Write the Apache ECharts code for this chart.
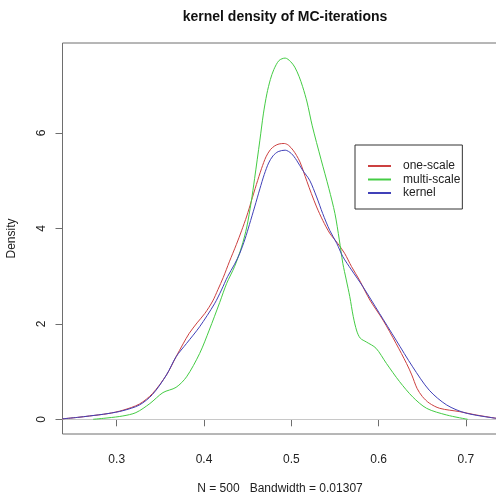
<!DOCTYPE html>
<html>
<head>
<meta charset="utf-8">
<title>kernel density of MC-iterations</title>
<script src="https://cdn.jsdelivr.net/npm/echarts@6.0.0/dist/echarts.min.js"></script>
<style>
  html, body { margin: 0; padding: 0; background: #fff; }
  #main { width: 496px; height: 496px; }
</style>
</head>
<body>
<div id="main"></div>
<script>
// 刻度
var xTicks = [0.3, 0.4, 0.5, 0.6, 0.7];
var yTicks = [0, 2, 4, 6];
var seriesNames = ['one-scale', 'multi-scale', 'kernel'];

// one-scale (red)
var oneX = [0.238,0.255,0.269,0.290,0.307,0.326,0.341,0.357,0.368,0.376,0.383,0.392,0.401,0.410,0.416,0.422,0.429,0.437,0.443,0.449,0.454,0.460,0.466,0.471,0.476,0.481,0.486,0.492,0.497,0.502,0.506,0.510,0.514,0.518,0.523,0.529,0.536,0.544,0.553,0.561,0.569,0.578,0.590,0.605,0.620,0.632,0.638,0.644,0.650,0.658,0.670,0.693,0.712,0.735];
var oneY = [0.01,0.04,0.07,0.12,0.19,0.32,0.54,0.93,1.31,1.58,1.80,2.02,2.22,2.48,2.72,2.97,3.30,3.66,3.95,4.26,4.56,4.92,5.26,5.50,5.65,5.73,5.77,5.78,5.74,5.64,5.53,5.39,5.19,4.98,4.73,4.45,4.17,3.90,3.69,3.48,3.20,2.92,2.50,2.08,1.59,1.17,0.93,0.65,0.48,0.34,0.23,0.16,0.09,0.02];

// multi-scale (green)
var multiX = [0.273,0.290,0.307,0.322,0.338,0.353,0.368,0.380,0.395,0.406,0.418,0.426,0.435,0.443,0.449,0.454,0.458,0.464,0.468,0.472,0.476,0.480,0.486,0.493,0.499,0.504,0.509,0.513,0.518,0.524,0.534,0.543,0.550,0.555,0.559,0.563,0.567,0.571,0.575,0.579,0.586,0.597,0.609,0.624,0.639,0.655,0.678,0.702];
var multiY = [0.00,0.03,0.07,0.14,0.33,0.56,0.67,0.89,1.38,1.87,2.45,2.85,3.20,3.61,4.03,4.55,5.05,5.85,6.40,6.82,7.12,7.33,7.52,7.57,7.50,7.38,7.18,6.97,6.65,6.15,5.45,4.84,4.31,3.76,3.27,2.92,2.57,2.15,1.85,1.70,1.62,1.49,1.17,0.79,0.47,0.23,0.09,0.00];

// kernel (blue)
var kernX = [0.238,0.255,0.269,0.290,0.307,0.326,0.341,0.357,0.368,0.380,0.395,0.412,0.420,0.427,0.435,0.441,0.447,0.452,0.458,0.464,0.469,0.474,0.479,0.485,0.493,0.500,0.506,0.513,0.521,0.529,0.536,0.544,0.552,0.559,0.569,0.582,0.601,0.620,0.639,0.658,0.678,0.700,0.735];
var kernY = [0.01,0.04,0.07,0.12,0.18,0.30,0.52,0.93,1.31,1.59,1.94,2.42,2.71,2.99,3.25,3.48,3.78,4.08,4.45,4.83,5.13,5.37,5.52,5.61,5.64,5.57,5.43,5.22,5.01,4.66,4.31,3.96,3.69,3.41,3.13,2.78,2.22,1.66,1.10,0.61,0.30,0.13,0.02];

function zip(xs, ys) {
    var out = [];
    for (var i = 0; i < xs.length; i++) {
        out.push([xs[i], ys[i]]);
    }
    return out;
}

function densityLine(name, color, xs, ys) {
    return {
        name: name,
        type: 'line',
        data: zip(xs, ys),
        showSymbol: false,
        symbol: 'none',
        smooth: 0.3,
        lineStyle: { color: color, width: 1 },
        itemStyle: { color: color },
        silent: true,
        z: 3
    };
}

var font = 'Liberation Sans, Arial, sans-serif';
var myChart = echarts.init(document.getElementById('main'));
var option = {
    backgroundColor: '#fff',
    animation: false,
    title: {
        text: 'kernel density of MC-iterations',
        left: 280,
        top: 5,
        textAlign: 'center',
        textStyle: { fontFamily: font, fontSize: 14, fontWeight: 'bold', color: '#111' }
    },
    legend: {
        data: seriesNames,
        orient: 'vertical',
        left: 355,
        top: 145,
        padding: [15, 2, 10, 13],
        itemGap: 1.5,
        itemWidth: 23,
        itemHeight: 2,
        icon: 'rect',
        borderColor: '#333',
        borderWidth: 1,
        selectedMode: false,
        textStyle: { fontFamily: font, fontSize: 12, color: '#222', padding: [0, 0, 0, 7], lineHeight: 12 }
    },
    grid: {
        left: 62.5,
        top: 43,
        width: 435,
        height: 391,
        outerBoundsMode: 'none',
        show: true,
        borderColor: '#6e6e6e',
        borderWidth: 1,
        backgroundColor: 'transparent'
    },
    xAxis: {
        type: 'value',
        min: 0.2379,
        max: 0.7362,
        name: 'N = 500   Bandwidth = 0.01307',
        nameLocation: 'middle',
        nameGap: 49,
        nameTextStyle: { fontFamily: font, fontSize: 12, color: '#222' },
        axisLine: { show: false },
        splitLine: { show: false },
        axisTick: { show: true, inside: false, length: 7, customValues: xTicks, lineStyle: { color: '#6e6e6e' } },
        axisLabel: { customValues: xTicks, margin: 20, fontFamily: font, fontSize: 12, color: '#222' }
    },
    yAxis: {
        type: 'value',
        min: -0.308,
        max: 7.886,
        name: 'Density',
        nameLocation: 'middle',
        nameGap: 45,
        nameTextStyle: { fontFamily: font, fontSize: 12, color: '#222' },
        axisLine: { show: false },
        splitLine: { show: false },
        axisTick: { show: true, inside: false, length: 7, customValues: yTicks, lineStyle: { color: '#6e6e6e' } },
        axisLabel: { customValues: yTicks, rotate: 90, margin: 15, fontFamily: font, fontSize: 12, color: '#222' }
    },
    series: [
        densityLine(seriesNames[0], '#cc4040', oneX, oneY),
        densityLine(seriesNames[1], '#44cc44', multiX, multiY),
        densityLine(seriesNames[2], '#4040b8', kernX, kernY)
    ]
};
// y=0 的灰色基线
option.series[0].markLine = {
    silent: true,
    symbol: 'none',
    label: { show: false },
    lineStyle: { color: '#c8c8c8', width: 1, type: 'solid' },
    data: [{ yAxis: 0 }],
    z: 1
};
myChart.setOption(option);
</script>
</body>
</html>
